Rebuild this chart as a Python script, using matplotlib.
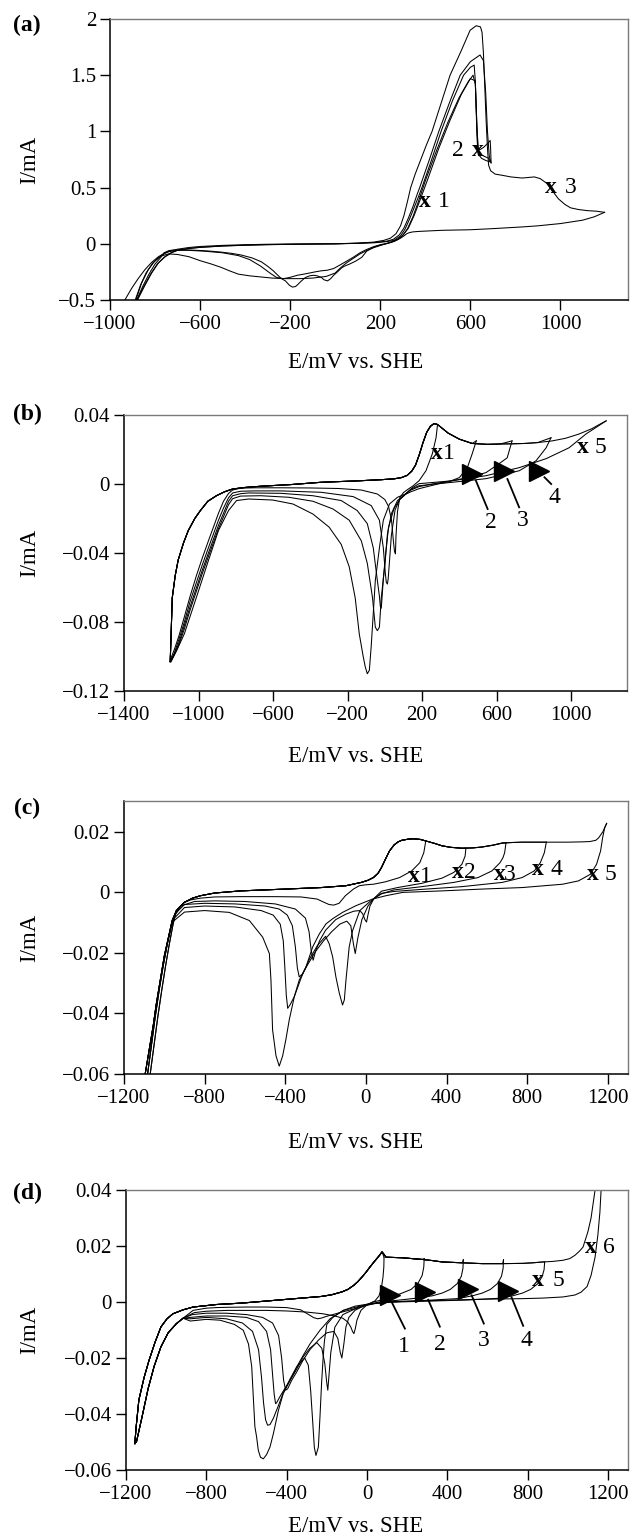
import numpy as np
import matplotlib
matplotlib.use("Agg")
import matplotlib.pyplot as plt

plt.rcParams['font.family'] = ['Liberation Serif', 'DejaVu Serif']

# ---------------- Panel (a) data ----------------
a1_fwd_E = [-881, -850, -820, -790, -760, -730, -700, -650, -600, -500, -400, -300, -200, -100, 0, 100, 180, 230, 260, 290, 310, 330, 350, 370, 385, 430, 470, 520, 570, 600, 617, 622, 628, 634, 650, 670, 688]
a1_fwd_I = [-0.50, -0.38, -0.27, -0.18, -0.12, -0.08, -0.058, -0.042, -0.032, -0.02, -0.013, -0.008, -0.005, -0.002, 0.0, 0.004, 0.01, 0.02, 0.03, 0.07, 0.13, 0.22, 0.32, 0.42, 0.5, 0.76, 1.0, 1.27, 1.5, 1.57, 1.59, 1.45, 1.05, 0.80, 0.76, 0.74, 0.73]
a1_rev_E = [688, 682, 660, 640, 632, 628, 622, 612, 590, 550, 500, 450, 400, 370, 345, 320, 300, 280, 260, 240, 225, 200, 171, 140, 118, 90, 64, 40, 28, 10, -7, -20, -34, -50, -61, -80, -96, -114, -132, -150, -165, -176, -190, -203, -221, -239, -260, -275, -300, -328, -370, -417, -460, -506, -550, -595, -640, -684, -720, -738, -760, -774, -800, -827, -855, -881]
a1_rev_I = [0.73, 0.76, 0.78, 0.80, 0.85, 1.1, 1.42, 1.50, 1.44, 1.30, 1.08, 0.83, 0.56, 0.38, 0.24, 0.13, 0.075, 0.04, 0.02, 0.008, 0.0, -0.012, -0.03, -0.065, -0.12, -0.155, -0.18, -0.20, -0.215, -0.25, -0.28, -0.31, -0.33, -0.32, -0.30, -0.285, -0.28, -0.285, -0.30, -0.33, -0.36, -0.38, -0.385, -0.37, -0.33, -0.31, -0.27, -0.24, -0.20, -0.16, -0.125, -0.10, -0.085, -0.074, -0.066, -0.06, -0.056, -0.054, -0.056, -0.06, -0.08, -0.12, -0.18, -0.27, -0.38, -0.50]

a2_fwd_E = [-878, -845, -815, -785, -755, -725, -700, -650, -600, -500, -400, -300, -200, -100, 0, 100, 180, 230, 258, 285, 305, 325, 345, 362, 375, 420, 460, 510, 555, 600, 643, 658, 668, 676, 684, 692]
a2_fwd_I = [-0.50, -0.37, -0.26, -0.17, -0.115, -0.078, -0.057, -0.041, -0.031, -0.019, -0.012, -0.007, -0.004, -0.002, 0.0, 0.005, 0.012, 0.024, 0.04, 0.08, 0.14, 0.23, 0.33, 0.43, 0.5, 0.76, 1.0, 1.27, 1.5, 1.62, 1.68, 1.63, 1.35, 1.0, 0.78, 0.72]
a2_rev_E = [692, 690, 688, 680, 660, 645, 636, 630, 622, 600, 560, 510, 460, 410, 375, 350, 325, 300, 280, 260, 240, 225, 200, 171, 140, 110, 80, 46, 20, -7, -35, -61, -90, -114, -140, -168, -203, -230, -260, -290, -330, -380, -430, -500, -580, -650, -700, -740, -770, -800, -830, -860, -885]
a2_rev_I = [0.72, 0.85, 0.92, 0.90, 0.86, 0.84, 0.84, 1.0, 1.45, 1.47, 1.33, 1.10, 0.85, 0.57, 0.38, 0.25, 0.14, 0.075, 0.045, 0.025, 0.01, 0.002, -0.008, -0.025, -0.05, -0.08, -0.12, -0.16, -0.19, -0.22, -0.235, -0.24, -0.25, -0.26, -0.27, -0.28, -0.30, -0.31, -0.30, -0.26, -0.20, -0.14, -0.105, -0.08, -0.066, -0.058, -0.058, -0.07, -0.10, -0.15, -0.23, -0.35, -0.50]

a3_fwd_E = [-934, -905, -875, -845, -815, -785, -755, -725, -700, -650, -600, -500, -400, -300, -200, -100, 0, 100, 170, 215, 245, 270, 290, 305, 320, 335, 355, 380, 405, 430, 470, 510, 560, 599, 626, 645, 652, 658, 664, 670, 676, 681, 690, 710, 740, 780, 830, 884, 910, 938, 965, 991, 1020, 1045, 1080, 1120, 1160, 1196]
a3_fwd_I = [-0.50, -0.40, -0.31, -0.23, -0.165, -0.115, -0.08, -0.06, -0.048, -0.033, -0.024, -0.014, -0.008, -0.004, -0.002, -0.001, 0.0, 0.006, 0.015, 0.03, 0.05, 0.09, 0.16, 0.25, 0.37, 0.5, 0.62, 0.75, 0.88, 1.0, 1.25, 1.5, 1.72, 1.9, 1.94, 1.93, 1.88, 1.70, 1.40, 1.10, 0.85, 0.70, 0.65, 0.62, 0.61, 0.595, 0.585, 0.595, 0.58, 0.54, 0.47, 0.40, 0.35, 0.32, 0.305, 0.295, 0.29, 0.28]
a3_rev_E = [1196, 1150, 1098, 1000, 900, 830, 700, 600, 474, 400, 370, 345, 330, 318, 305, 290, 270, 250, 225, 200, 170, 140, 110, 80, 50, 20, 0, -40, -100, -160, -220, -280, -330, -380, -430, -470, -506, -550, -600, -649, -700, -740, -774, -810, -840, -865, -888]
a3_rev_I = [0.28, 0.24, 0.21, 0.18, 0.16, 0.15, 0.135, 0.125, 0.12, 0.113, 0.11, 0.106, 0.1, 0.09, 0.07, 0.05, 0.03, 0.015, 0.0, -0.015, -0.035, -0.06, -0.09, -0.13, -0.17, -0.22, -0.26, -0.29, -0.305, -0.31, -0.31, -0.305, -0.295, -0.285, -0.27, -0.24, -0.21, -0.18, -0.15, -0.115, -0.095, -0.09, -0.11, -0.17, -0.26, -0.37, -0.50]

# ---------------- Panel (b) data ----------------
b_fwd_E = [-1152, -1148, -1141, -1125, -1109, -1080, -1055, -1020, -990, -950, -904, -860, -817, -750, -666, -500, -342, -150, -19, 50, 89, 120, 145, 165, 185, 205, 225, 245, 264, 283, 300, 340, 400, 469, 550, 620, 683, 750, 820, 899, 970, 1043, 1110, 1160, 1188]
b_fwd_I = [-0.103, -0.09, -0.066, -0.053, -0.044, -0.034, -0.027, -0.02, -0.0154, -0.010, -0.0068, -0.0045, -0.0029, -0.002, -0.0013, -0.0003, 0.001, 0.0018, 0.0025, 0.003, 0.0037, 0.005, 0.0075, 0.011, 0.017, 0.024, 0.030, 0.0335, 0.035, 0.0345, 0.033, 0.0295, 0.026, 0.0235, 0.023, 0.0232, 0.0233, 0.0235, 0.024, 0.025, 0.0265, 0.029, 0.032, 0.035, 0.0366]
b_sw_E = [283, 491, 683, 892, 1188]
b_sw_I = [0.0345, 0.025, 0.025, 0.0268, 0.0366]

b_tail_E = [-817, -839, -866, -893, -920, -947, -980, -1011, -1045, -1076, -1105, -1130, -1148]
b1_tail_I = [-0.0035, -0.0055, -0.010, -0.017, -0.025, -0.033, -0.043, -0.053, -0.065, -0.077, -0.088, -0.096, -0.101]
b2_tail_I = [-0.0052, -0.008, -0.014, -0.021, -0.029, -0.037, -0.047, -0.057, -0.068, -0.080, -0.090, -0.098, -0.102]
b3_tail_I = [-0.0068, -0.010, -0.017, -0.024, -0.032, -0.040, -0.050, -0.060, -0.071, -0.082, -0.092, -0.099, -0.103]
b4_tail_I = [-0.0085, -0.012, -0.019, -0.026, -0.034, -0.042, -0.052, -0.062, -0.073, -0.084, -0.093, -0.099, -0.103]

b1_rev_E = [283, 275, 255, 221, 184, 150, 125, 100, 80, 68, 60, 57, 52, 46, 36, 20, 0, -40, -126, -250, -400, -550, -700, -774]
b1_rev_I = [0.0345, 0.0268, 0.0175, 0.0077, 0.0019, -0.0012, -0.003, -0.005, -0.008, -0.016, -0.03, -0.0405, -0.039, -0.033, -0.021, -0.013, -0.009, -0.0058, -0.0035, -0.0026, -0.0023, -0.0022, -0.0022, -0.0024]
b2_rev_E = [491, 469, 443, 400, 340, 292, 240, 184, 140, 111, 80, 55, 35, 25, 18, 14, 8, 3, -8, -29, -73, -170, -342, -558, -700, -774]
b2_rev_I = [0.025, 0.0175, 0.0095, 0.0037, 0.0012, 0.0002, -0.0012, -0.0027, -0.0045, -0.006, -0.009, -0.015, -0.03, -0.045, -0.055, -0.058, -0.057, -0.052, -0.037, -0.021, -0.0125, -0.0073, -0.0048, -0.004, -0.004, -0.0042]
b3_rev_E = [683, 657, 614, 543, 450, 363, 280, 184, 140, 111, 80, 50, 20, 5, -8, -15, -19, -24, -29, -40, -62, -94, -148, -234, -386, -558, -731, -774]
b3_rev_I = [0.025, 0.0152, 0.0118, 0.0066, 0.0038, 0.0019, 0.0005, -0.0015, -0.0035, -0.0058, -0.009, -0.014, -0.025, -0.04, -0.055, -0.066, -0.072, -0.071, -0.065, -0.056, -0.037, -0.023, -0.0154, -0.0096, -0.0068, -0.0054, -0.0052, -0.0056]
b4_rev_E = [892, 866, 812, 722, 600, 543, 450, 363, 270, 184, 140, 111, 68, 36, 14, 1, -19, -29, -40, -51, -66, -94, -126, -191, -278, -386, -515, -666, -774]
b4_rev_I = [0.0268, 0.021, 0.0135, 0.0077, 0.0045, 0.0031, 0.002, 0.001, 0.0, -0.001, -0.003, -0.0058, -0.0096, -0.017, -0.029, -0.046, -0.066, -0.083, -0.085, -0.083, -0.066, -0.046, -0.033, -0.021, -0.0145, -0.01, -0.0077, -0.0068, -0.007]
b5_rev_E = [1188, 1080, 989, 866, 722, 543, 363, 250, 184, 150, 111, 68, 25, -8, -29, -51, -62, -73, -83, -94, -105, -116, -137, -159, -191, -234, -299, -386, -493, -601, -731, -796, -839, -893, -947, -1011, -1076, -1119, -1145, -1152]
b5_rev_I = [0.0366, 0.029, 0.021, 0.0147, 0.0095, 0.0048, 0.0019, 0.0008, 0.0002, -0.002, -0.0058, -0.0077, -0.0116, -0.021, -0.037, -0.056, -0.075, -0.094, -0.108, -0.11, -0.106, -0.1, -0.087, -0.066, -0.048, -0.035, -0.025, -0.0174, -0.0116, -0.0093, -0.0087, -0.0096, -0.0154, -0.027, -0.0444, -0.0656, -0.0868, -0.097, -0.102, -0.103]

# ---------------- Panel (c) data ----------------
c_fwd_E = [-1095, -1075, -1055, -1040, -1020, -1000, -980, -961, -940, -901, -860, -821, -750, -621, -400, -222, -100, -23, 10, 37, 60, 77, 97, 117, 140, 160, 177, 210, 237, 270, 297, 340, 377, 420, 476, 530, 576, 630, 676, 730, 775, 850, 895, 1000, 1074, 1110, 1140, 1154, 1175, 1194]
c_fwd_I = [-0.060, -0.052, -0.044, -0.037, -0.029, -0.021, -0.015, -0.0093, -0.006, -0.0033, -0.0019, -0.0011, -0.0002, 0.0005, 0.0011, 0.0016, 0.0022, 0.0033, 0.0040, 0.0049, 0.0063, 0.0082, 0.011, 0.0137, 0.0157, 0.0167, 0.0172, 0.0176, 0.0177, 0.0175, 0.0170, 0.0162, 0.0154, 0.0149, 0.0146, 0.0147, 0.0150, 0.0156, 0.0163, 0.0165, 0.0166, 0.0166, 0.0166, 0.0166, 0.0167, 0.0168, 0.0172, 0.0180, 0.0200, 0.0228]
c_sw_E = [297, 496, 695, 895, 1194]
c_sw_I = [0.017, 0.0146, 0.0164, 0.0166, 0.0228]
c_tail_E = [-965, -985, -1005, -1025, -1045, -1065, -1085]
c_tail_I = [-0.011, -0.017, -0.024, -0.032, -0.041, -0.051, -0.061]
c_tail2_E = [-958, -975, -993, -1012, -1032, -1052, -1072]

c1_rev_E = [297, 287, 267, 227, 167, 97, 37, -3, -33, -62, -102, -133, -160, -183, -210, -242, -322, -450, -621, -750, -821, -870, -901, -941]
c1_rev_I = [0.017, 0.0131, 0.0098, 0.0071, 0.0049, 0.0035, 0.0027, 0.0025, 0.0022, 0.0011, -0.0011, -0.0036, -0.0042, -0.0040, -0.0032, -0.0022, -0.0015, -0.0014, -0.0014, -0.0015, -0.0019, -0.0025, -0.0033, -0.006]
c2_rev_E = [496, 492, 476, 436, 377, 277, 157, 77, 40, 20, 10, 3, -5, -16, -30, -60, -100, -150, -200, -230, -250, -262, -272, -282, -300, -350, -450, -600, -750, -850, -920, -950]
c2_rev_I = [0.0146, 0.012, 0.0093, 0.0066, 0.0047, 0.003, 0.0016, 0.0004, -0.002, -0.0045, -0.0075, -0.0098, -0.009, -0.0071, -0.006, -0.0062, -0.0072, -0.009, -0.0125, -0.016, -0.0195, -0.0224, -0.019, -0.013, -0.0085, -0.0055, -0.0038, -0.003, -0.0028, -0.003, -0.0045, -0.008]
c3_rev_E = [695, 688, 680, 665, 625, 556, 436, 277, 137, 77, 40, 10, -20, -40, -53, -62, -75, -95, -130, -170, -210, -250, -290, -315, -331, -340, -350, -365, -390, -430, -500, -650, -800, -900, -945]
c3_rev_I = [0.0164, 0.0131, 0.0115, 0.0098, 0.0071, 0.0049, 0.0033, 0.0019, 0.0008, -0.0005, -0.002, -0.0045, -0.009, -0.015, -0.0202, -0.017, -0.011, -0.0095, -0.0105, -0.013, -0.016, -0.0195, -0.024, -0.027, -0.0279, -0.025, -0.018, -0.011, -0.0075, -0.0055, -0.0045, -0.0038, -0.0036, -0.004, -0.007]
c4_rev_E = [895, 885, 865, 835, 775, 676, 476, 277, 137, 77, 20, -30, -66, -83, -91, -99, -107, -116, -132, -149, -165, -182, -200, -240, -280, -320, -355, -375, -388, -395, -402, -410, -425, -460, -520, -650, -800, -900, -950]
c4_rev_I = [0.0166, 0.0131, 0.0098, 0.0071, 0.0049, 0.0033, 0.0019, 0.001, 0.0003, -0.0003, -0.003, -0.006, -0.0126, -0.018, -0.0235, -0.029, -0.0355, -0.0372, -0.0333, -0.0279, -0.0213, -0.017, -0.0145, -0.0175, -0.022, -0.028, -0.0344, -0.037, -0.0383, -0.034, -0.025, -0.016, -0.0105, -0.0075, -0.006, -0.0048, -0.0045, -0.005, -0.0085]
c5_rev_E = [1194, 1184, 1174, 1164, 1144, 1114, 1054, 975, 775, 576, 377, 182, 99, 33, -50, -116, -165, -198, -231, -264, -297, -331, -355, -380, -397, -413, -430, -446, -463, -471, -479, -512, -578, -678, -800, -900, -955]
c5_rev_I = [0.0228, 0.0213, 0.018, 0.0137, 0.0093, 0.006, 0.0038, 0.0027, 0.0016, 0.0011, 0.0005, 0.0, -0.0011, -0.0022, -0.0044, -0.0066, -0.0087, -0.0104, -0.0137, -0.018, -0.0246, -0.029, -0.0344, -0.042, -0.0486, -0.054, -0.0574, -0.054, -0.0454, -0.029, -0.0202, -0.0148, -0.0093, -0.0066, -0.006, -0.0065, -0.0095]

# ---------------- Panel (d) data ----------------
d_fwd_E = [-1156, -1150, -1136, -1110, -1086, -1056, -1026, -996, -966, -916, -866, -750, -626, -525, -425, -325, -225, -175, -125, -95, -65, -45, -25, -5, 15, 35, 55, 68, 75, 85, 95, 135, 175, 225, 275, 325, 375, 475, 575, 676, 776, 826, 876, 926, 976, 1010, 1036, 1056, 1076, 1100, 1116, 1128, 1136, 1145]
d_fwd_I = [-0.0506, -0.045, -0.035, -0.027, -0.021, -0.0145, -0.0089, -0.006, -0.0042, -0.0028, -0.0018, -0.0009, -0.0004, 0.0002, 0.0008, 0.0014, 0.002, 0.0026, 0.0036, 0.0045, 0.006, 0.0073, 0.0089, 0.0106, 0.0125, 0.0143, 0.016, 0.0172, 0.0179, 0.017, 0.016, 0.0159, 0.0158, 0.0155, 0.0152, 0.0148, 0.0143, 0.014, 0.0137, 0.0137, 0.0138, 0.014, 0.0143, 0.0145, 0.0149, 0.0155, 0.0167, 0.018, 0.0196, 0.025, 0.030, 0.036, 0.040, 0.046]
d_sw_E = [85, 285, 480, 680, 885]
d_sw_I = [0.016, 0.0155, 0.0151, 0.0151, 0.0143]
d_tail_E = [-916, -950, -990, -1026, -1060, -1090, -1120, -1148]
d_tail_I = [-0.0058, -0.0078, -0.011, -0.016, -0.023, -0.031, -0.041, -0.050]

d1_rev_E = [85, 84, 80, 72, 60, 40, 15, -30, -65, -125, -165, -205, -225, -245, -265, -290, -330, -400, -500, -600, -700, -750, -800, -866]
d1_rev_I = [0.016, 0.0125, 0.009, 0.005, 0.0022, 0.0004, -0.0005, -0.0015, -0.0025, -0.0036, -0.0044, -0.0052, -0.0057, -0.006, -0.0056, -0.0045, -0.0028, -0.002, -0.0018, -0.0018, -0.0019, -0.002, -0.0022, -0.003]
d2_rev_E = [285, 283, 275, 255, 220, 179, 130, 98, 60, 30, 0, -30, -50, -58, -65, -72, -80, -95, -120, -160, -220, -300, -400, -500, -600, -700, -800, -860]
d2_rev_I = [0.0155, 0.0125, 0.0095, 0.0068, 0.0045, 0.0033, 0.002, 0.0012, 0.0005, 0.0, -0.001, -0.003, -0.0065, -0.0095, -0.0113, -0.0105, -0.009, -0.0072, -0.0058, -0.005, -0.0042, -0.0036, -0.0032, -0.003, -0.003, -0.003, -0.0033, -0.0038]
d3_rev_E = [480, 478, 470, 450, 415, 375, 325, 250, 150, 60, 20, -20, -60, -90, -105, -115, -125, -133, -145, -165, -200, -240, -284, -320, -350, -375, -395, -405, -415, -425, -440, -470, -520, -600, -700, -800, -870]
d3_rev_I = [0.0151, 0.012, 0.0092, 0.0066, 0.0045, 0.0032, 0.0022, 0.0014, 0.0006, 0.0, -0.0006, -0.0015, -0.003, -0.0055, -0.009, -0.015, -0.020, -0.018, -0.013, -0.0105, -0.011, -0.0135, -0.017, -0.021, -0.025, -0.028, -0.031, -0.0315, -0.028, -0.02, -0.012, -0.0075, -0.0055, -0.0045, -0.004, -0.004, -0.0045]
d4_rev_E = [680, 678, 670, 650, 615, 575, 525, 450, 300, 100, 40, 0, -60, -120, -160, -180, -190, -195, -200, -210, -225, -250, -284, -317, -350, -383, -410, -435, -450, -455, -462, -470, -480, -500, -540, -600, -700, -800, -880]
d4_rev_I = [0.0151, 0.012, 0.0092, 0.0066, 0.0045, 0.0032, 0.0022, 0.0012, 0.0006, 0.0, -0.0005, -0.0012, -0.0025, -0.0045, -0.009, -0.018, -0.027, -0.0315, -0.029, -0.022, -0.0165, -0.0145, -0.0165, -0.0195, -0.024, -0.028, -0.031, -0.034, -0.036, -0.0363, -0.033, -0.026, -0.017, -0.0105, -0.007, -0.0055, -0.005, -0.005, -0.0055]
d5_rev_E = [885, 882, 872, 850, 815, 775, 725, 650, 500, 300, 100, 0, -60, -118, -170, -200, -212, -218, -226, -234, -242, -254, -262, -270, -280, -292, -310, -350, -383, -417, -441, -466, -483, -495, -505, -515, -525, -540, -570, -620, -700, -800, -880]
d5_rev_I = [0.0143, 0.0115, 0.009, 0.0065, 0.0045, 0.0032, 0.0022, 0.0013, 0.0007, 0.0003, -0.0001, -0.0008, -0.0015, -0.003, -0.0055, -0.008, -0.014, -0.0196, -0.029, -0.041, -0.0518, -0.0548, -0.052, -0.043, -0.032, -0.0226, -0.02, -0.0232, -0.0275, -0.0325, -0.037, -0.0415, -0.0438, -0.044, -0.042, -0.036, -0.027, -0.017, -0.0105, -0.0075, -0.006, -0.0055, -0.006]
d6_rev_E = [1170, 1166, 1160, 1150, 1136, 1116, 1096, 1066, 1036, 976, 876, 776, 576, 375, 175, 75, 35, 0, -35, -118, -184, -234, -284, -317, -350, -383, -417, -441, -466, -483, -500, -516, -530, -541, -550, -558, -566, -574, -590, -616, -660, -732, -800, -880]
d6_rev_I = [0.046, 0.040, 0.032, 0.024, 0.016, 0.0095, 0.0055, 0.0035, 0.0025, 0.0018, 0.0014, 0.0012, 0.001, 0.0006, 0.0002, -0.0003, -0.0006, -0.001, -0.0015, -0.003, -0.006, -0.0101, -0.015, -0.019, -0.0232, -0.028, -0.0327, -0.0387, -0.047, -0.0518, -0.0545, -0.056, -0.0555, -0.053, -0.048, -0.0446, -0.034, -0.023, -0.015, -0.0101, -0.008, -0.0065, -0.0062, -0.0068]

# ---------------- Layout helpers ----------------
W, H = 630, 1537
fig = plt.figure(figsize=(W / 100, H / 100), dpi=100)

TICK_FS = 15
LAB_FS = 16.5
ANN_FS = 17
LW = 0.75


def axes_px(l, r, t, b):
    return fig.add_axes([l / W, 1 - b / H, (r - l) / W, (b - t) / H])


def style(ax, xlim, ylim, xt, xtl, yt, ytl):
    ax.set_xlim(*xlim)
    ax.set_ylim(*ylim)
    ax.set_xticks(xt)
    ax.set_xticklabels(xtl)
    ax.set_yticks(yt)
    ax.set_yticklabels(ytl)
    for s in ['top', 'right']:
        ax.spines[s].set_color('#7a7a7a')
        ax.spines[s].set_linewidth(1.0)
    for s in ['left', 'bottom']:
        ax.spines[s].set_color('black')
        ax.spines[s].set_linewidth(1.1)
    ax.tick_params(direction='out', length=7, width=1.0, labelsize=TICK_FS,
                   top=False, right=False)
    ax.tick_params(axis='x', pad=4)
    ax.tick_params(axis='y', pad=3)


def line(ax, E, I):
    ax.plot(E, I, color='black', lw=LW, solid_joinstyle='round')


def fwd_upto(ax, E, I, swE, swI):
    E = np.asarray(E, float)
    I = np.asarray(I, float)
    m = E < swE
    line(ax, np.append(E[m], swE), np.append(I[m], swI))


def xmark(ax, ex, ey, nx, num):
    ax.text(ex, ey, 'x', fontsize=ANN_FS, fontweight='bold', ha='center', va='center')
    ax.text(nx, ey, num, fontsize=ANN_FS, ha='center', va='center')


def arrow_mark(ax, head, l0, l1, lab, num):
    ax.plot([head[0]], [head[1]], marker='>', color='black', ms=14, mec='black')
    ax.plot([l0[0], l1[0]], [l0[1], l1[1]], color='black', lw=1.3)
    ax.text(lab[0], lab[1], num, fontsize=ANN_FS, ha='center', va='center')


def panel_text(letter, yc, xlab_y, ax_top, ax_bot):
    fig.text(27 / W, 1 - yc / H, letter, fontsize=17, fontweight='bold', ha='center', va='center')
    fig.text(356 / W, 1 - xlab_y / H, 'E/mV vs. SHE', fontsize=LAB_FS, ha='center', va='center')
    fig.text(30 / W, 1 - (ax_top + ax_bot) / 2 / H, 'I/mA', fontsize=LAB_FS,
             rotation=90, ha='center', va='center')


M = '\u2212'

# ---------------- Panel (a) ----------------
ax = axes_px(110, 628, 19, 300)
line(ax, a1_fwd_E, a1_fwd_I)
line(ax, a1_rev_E, a1_rev_I)
line(ax, a2_fwd_E, a2_fwd_I)
line(ax, a2_rev_E, a2_rev_I)
line(ax, a3_fwd_E, a3_fwd_I)
line(ax, a3_rev_E, a3_rev_I)
style(ax, (-1000, 1300), (-0.5, 2.0),
      [-1000, -600, -200, 200, 600, 1000],
      [M + '1000', M + '600', M + '200', '200', '600', '1000'],
      [-0.5, 0, 0.5, 1, 1.5, 2], [M + '0.5', '0', '0.5', '1', '1.5', '2'])
xmark(ax, 399, 0.372, 483, '1')
ax.text(545, 0.833, '2', fontsize=ANN_FS, ha='center', va='center')
ax.text(635, 0.833, 'x', fontsize=ANN_FS, fontweight='bold', ha='center', va='center')
xmark(ax, 959, 0.50, 1045, '3')
panel_text('(a)', 25, 362, 19, 300)

# ---------------- Panel (b) ----------------
ax = axes_px(124, 627, 415, 691)
for k in range(5):
    fwd_upto(ax, b_fwd_E, b_fwd_I, b_sw_E[k], b_sw_I[k])
line(ax, b1_rev_E + b_tail_E, b1_rev_I + b1_tail_I)
line(ax, b2_rev_E + b_tail_E, b2_rev_I + b2_tail_I)
line(ax, b3_rev_E + b_tail_E, b3_rev_I + b3_tail_I)
line(ax, b4_rev_E + b_tail_E, b4_rev_I + b4_tail_I)
line(ax, b5_rev_E, b5_rev_I)
style(ax, (-1400, 1300), (-0.12, 0.04),
      [-1400, -1000, -600, -200, 200, 600, 1000],
      [M + '1400', M + '1000', M + '600', M + '200', '200', '600', '1000'],
      [-0.12, -0.08, -0.04, 0, 0.04], [M + '0.12', M + '0.08', M + '0.04', '0', '0.04'])
xmark(ax, 279, 0.0174, 344, '1')
xmark(ax, 1061, 0.0212, 1158, '5')
arrow_mark(ax, (470, 0.0058), (489, 0.0019), (552, -0.0145), (570, -0.0222), '2')
arrow_mark(ax, (641, 0.0073), (658, 0.0029), (721, -0.0135), (739, -0.0212), '3')
arrow_mark(ax, (828, 0.0073), (857, 0.0039), (893, 0.0), (911, -0.0077), '4')
panel_text('(b)', 414, 756, 415, 691)

# ---------------- Panel (c) ----------------
ax = axes_px(124, 628, 801, 1074)
for k in range(5):
    fwd_upto(ax, c_fwd_E, c_fwd_I, c_sw_E[k], c_sw_I[k])
line(ax, c1_rev_E + c_tail2_E, c1_rev_I + c_tail_I)
line(ax, c2_rev_E + c_tail_E, c2_rev_I + c_tail_I)
line(ax, c3_rev_E + c_tail2_E, c3_rev_I + c_tail_I)
line(ax, c4_rev_E + c_tail_E, c4_rev_I + c_tail_I)
line(ax, c5_rev_E + c_tail_E, c5_rev_I + c_tail_I)
style(ax, (-1200, 1300), (-0.06, 0.0302),
      [-1200, -800, -400, 0, 400, 800, 1200],
      [M + '1200', M + '800', M + '400', '0', '400', '800', '1200'],
      [-0.06, -0.04, -0.02, 0, 0.02], [M + '0.06', M + '0.04', M + '0.02', '0', '0.02'])
xmark(ax, 236, 0.0051, 296, '1')
xmark(ax, 456, 0.0066, 516, '2')
xmark(ax, 665, 0.0060, 715, '3')
xmark(ax, 855, 0.0077, 945, '4')
xmark(ax, 1124, 0.0060, 1214, '5')
panel_text('(c)', 808, 1143, 801, 1074)

# ---------------- Panel (d) ----------------
ax = axes_px(126, 628, 1190, 1470)
for k in range(5):
    fwd_upto(ax, d_fwd_E, d_fwd_I, d_sw_E[k], d_sw_I[k])
line(ax, d_fwd_E, d_fwd_I)
line(ax, d1_rev_E + d_tail_E, d1_rev_I + d_tail_I)
line(ax, d2_rev_E + d_tail_E, d2_rev_I + d_tail_I)
line(ax, d3_rev_E + d_tail_E, d3_rev_I + d_tail_I)
line(ax, d4_rev_E + d_tail_E, d4_rev_I + d_tail_I)
line(ax, d5_rev_E + d_tail_E, d5_rev_I + d_tail_I)
line(ax, d6_rev_E + d_tail_E, d6_rev_I + d_tail_I)
style(ax, (-1200, 1300), (-0.06, 0.04),
      [-1200, -800, -400, 0, 400, 800, 1200],
      [M + '1200', M + '800', M + '400', '0', '400', '800', '1200'],
      [-0.06, -0.04, -0.02, 0, 0.02, 0.04],
      [M + '0.06', M + '0.04', M + '0.02', '0', '0.02', '0.04'])
arrow_mark(ax, (114, 0.0026), (123, 0.0), (189, -0.0095), (184, -0.0158), '1')
arrow_mark(ax, (288, 0.0036), (305, 0.0008), (363, -0.0088), (363, -0.0153), '2')
arrow_mark(ax, (504, 0.0048), (521, 0.0024), (582, -0.0077), (582, -0.0137), '3')
arrow_mark(ax, (703, 0.0039), (720, 0.0017), (778, -0.0085), (794, -0.0137), '4')
xmark(ax, 852, 0.0077, 952, '5')
xmark(ax, 1116, 0.0194, 1206, '6')
panel_text('(d)', 1193, 1527, 1190, 1470)

fig.savefig('out.png', dpi=100)
